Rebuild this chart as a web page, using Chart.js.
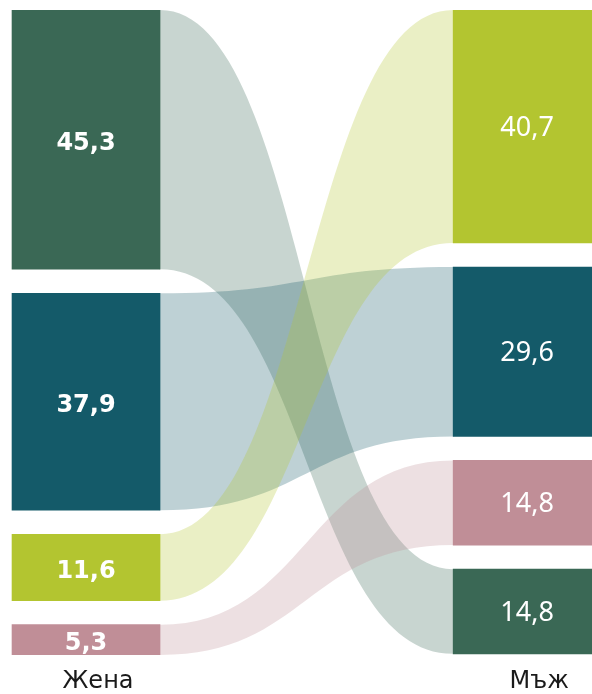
<!DOCTYPE html>
<html>
<head>
<meta charset="utf-8">
<script src="https://cdn.jsdelivr.net/npm/chart.js@4.4.1/dist/chart.umd.min.js"></script>
<style>
  html, body { margin: 0; padding: 0; background: #fff; }
  #wrap { width: 592px; height: 694px; }
</style>
</head>
<body>
<div id="wrap"><canvas id="chart"></canvas></div>
<script>
// данни
const sides = ['Жена', 'Мъж'];
const groupColors = ['#3a6855', '#145a69', '#b3c530', '#c08e97'];
const womenValues = [45.3, 37.9, 11.6, 5.3];
const menValues = [14.8, 29.6, 40.7, 14.8];
// ред на групите отгоре надолу за всяка колона
const womenOrder = [0, 1, 2, 3];
const menOrder = [2, 1, 3, 0];

const GAP = 4.2; // разстояние между блоковете, в единици на оста

// начало/край на всеки блок в колоната
function stackRanges(values, order) {
    const ranges = [];
    let pos = 0;
    order.forEach(idx => {
        ranges[idx] = [pos, pos + values[idx]];
        pos += values[idx] + GAP;
    });
    return ranges;
}

const womenRanges = stackRanges(womenValues, womenOrder);
const menRanges = stackRanges(menValues, menOrder);
const yMax = Math.max(
    womenValues.reduce((a, b) => a + b, 0),
    menValues.reduce((a, b) => a + b, 0)
) + GAP * 3;

function fade(hex, a) {
    const n = parseInt(hex.slice(1), 16);
    return `rgba(${(n >> 16) & 255}, ${(n >> 8) & 255}, ${n & 255}, ${a})`;
}

const datasets = groupColors.map((color, i) => ({
    data: [
        { x: 0, y: womenRanges[i], v: womenValues[i] },
        { x: 1, y: menRanges[i], v: menValues[i] }
    ],
    backgroundColor: color,
    borderWidth: 0
}));

// ленти между двете колони
const ribbons = {
    id: 'ribbons',
    beforeDatasetsDraw(chart) {
        const ctx = chart.ctx;
        ctx.save();
        chart.data.datasets.forEach((ds, i) => {
            const meta = chart.getDatasetMeta(i);
            const l = meta.data[0], r = meta.data[1];
            const x0 = l.x + l.width / 2;
            const x1 = r.x - r.width / 2;
            const xm = (x0 + x1) / 2;
            const t0 = Math.min(l.y, l.base), b0 = Math.max(l.y, l.base);
            const t1 = Math.min(r.y, r.base), b1 = Math.max(r.y, r.base);
            ctx.beginPath();
            ctx.moveTo(x0 - 1, t0);
            ctx.lineTo(x0, t0);
            ctx.bezierCurveTo(xm, t0, xm, t1, x1, t1);
            ctx.lineTo(x1 + 1, t1);
            ctx.lineTo(x1 + 1, b1);
            ctx.lineTo(x1, b1);
            ctx.bezierCurveTo(xm, b1, xm, b0, x0, b0);
            ctx.lineTo(x0 - 1, b0);
            ctx.closePath();
            ctx.fillStyle = fade(ds.backgroundColor, 0.28);
            ctx.fill();
        });
        ctx.restore();
    }
};

// стойности в блоковете
const valueLabels = {
    id: 'valueLabels',
    afterDatasetsDraw(chart) {
        const ctx = chart.ctx;
        ctx.save();
        ctx.fillStyle = '#ffffff';
        ctx.textAlign = 'center';
        ctx.textBaseline = 'middle';
        chart.data.datasets.forEach((ds, i) => {
            chart.getDatasetMeta(i).data.forEach((bar, j) => {
                const v = ds.data[j].v;
                ctx.font = j === 0 ? 'bold 24px "DejaVu Sans"' : '27px "Noto Sans"';
                const cy = (bar.y + bar.base) / 2 + (j === 0 ? 4 : 2);
                ctx.fillText(v.toFixed(1).replace('.', ','), bar.x, cy);
            });
        });
        ctx.restore();
    }
};

new Chart(document.getElementById('chart'), {
    type: 'bar',
    data: { datasets },
    plugins: [ribbons, valueLabels],
    options: {
        responsive: true,
        maintainAspectRatio: false,
        animation: false,
        layout: { padding: { top: 10, left: 0, right: 0, bottom: 0 } },
        datasets: { bar: { grouped: false, barThickness: 148 } },
        plugins: { legend: { display: false }, tooltip: { enabled: false } },
        scales: {
            x: {
                type: 'linear',
                offset: false,
                min: -0.195,
                max: 1.147,
                afterFit: scale => { scale.height = 39; },
                grid: { display: false, drawTicks: false },
                border: { display: false },
                ticks: {
                    stepSize: 1,
                    includeBounds: false,
                    padding: 12,
                    labelOffset: 12,
                    color: '#1a1a1a',
                    font: { family: '"DejaVu Sans"', size: 24 },
                    callback: v => sides[v] ?? ''
                }
            },
            y: {
                display: false,
                reverse: true,
                min: 0,
                max: yMax
            }
        }
    }
});
</script>
</body>
</html>
